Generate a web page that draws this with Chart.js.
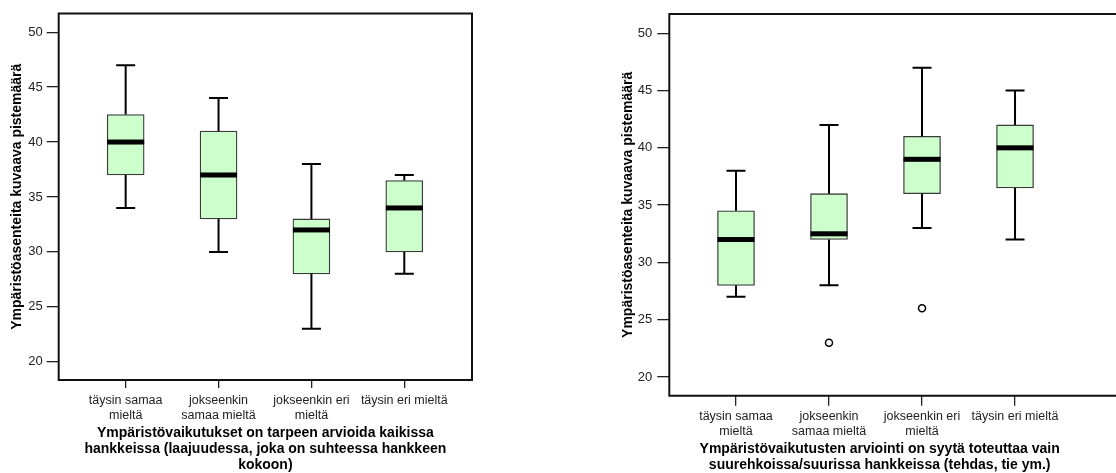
<!DOCTYPE html>
<html>
<head>
<meta charset="utf-8">
<script src="https://cdn.jsdelivr.net/npm/chart.js@4.4.1/dist/chart.umd.min.js"></script>
<style>
  html, body { margin: 0; padding: 0; background: #fff; overflow: hidden; }
  .panel { position: absolute; top: 0; }
</style>
</head>
<body>
<div class="panel" style="left:0px"><canvas id="leftChart" width="556" height="473"></canvas></div>
<div class="panel" style="left:556px"><canvas id="rightChart" width="560" height="473"></canvas></div>
<script>
// categories + tick values shared by both panels
const categories = [
  ['täysin samaa', 'mieltä'],
  ['jokseenkin', 'samaa mieltä'],
  ['jokseenkin eri', 'mieltä'],
  ['täysin eri mieltä']
];
const yTicks = [20, 25, 30, 35, 40, 45, 50];
const yTitle = 'Ympäristöasenteita kuvaava pistemäärä';

// left panel: box plot statistics
const leftLow    = [34, 30, 23, 28];
const leftQ1     = [37, 33, 28, 30];
const leftMedian = [40, 37, 32, 34];
const leftQ3     = [42.5, 41, 33, 36.5];
const leftHigh   = [47, 44, 38, 37];
const leftOutliers = [[], [], [], []];
const leftXTitle = ['Ympäristövaikutukset on tarpeen arvioida kaikissa',
                    'hankkeissa (laajuudessa, joka on suhteessa hankkeen',
                    'kokoon)'];

// right panel: box plot statistics
const rightLow    = [27, 28, 33, 32];
const rightQ1     = [28, 32, 36, 36.5];
const rightMedian = [32, 32.5, 39, 40];
const rightQ3     = [34.5, 36, 41, 42];
const rightHigh   = [38, 42, 47, 45];
const rightOutliers = [[], [23], [26], []];
const rightXTitle = ['Ympäristövaikutusten arviointi on syytä toteuttaa vain',
                     'suurehkoissa/suurissa hankkeissa (tehdas, tie ym.)'];

const FONT = '"Liberation Sans", Arial, Helvetica, sans-serif';

/* whiskers, caps, medians and the frame round the plot area */
const boxPartsPlugin = {
  id: 'boxParts',
  afterDatasetsDraw(chart, args, opts) {
    const { ctx, chartArea, scales: { x, y } } = chart;
    ctx.save();
    ctx.strokeStyle = '#000';
    ctx.lineWidth = 2;
    opts.median.forEach((m, i) => {
      const cx = x.getPixelForValue(i + 1);
      const lo = y.getPixelForValue(opts.low[i]);
      const q1 = y.getPixelForValue(opts.q1[i]);
      const q3 = y.getPixelForValue(opts.q3[i]);
      const hi = y.getPixelForValue(opts.high[i]);
      ctx.beginPath();
      ctx.moveTo(cx, q3); ctx.lineTo(cx, hi);
      ctx.moveTo(cx, q1); ctx.lineTo(cx, lo);
      ctx.moveTo(cx - opts.capWidth / 2, hi); ctx.lineTo(cx + opts.capWidth / 2, hi);
      ctx.moveTo(cx - opts.capWidth / 2, lo); ctx.lineTo(cx + opts.capWidth / 2, lo);
      ctx.stroke();
      // median bar
      const my = y.getPixelForValue(m);
      ctx.fillStyle = '#000';
      ctx.fillRect(cx - opts.boxWidth / 2, my - 2.5, opts.boxWidth, 5);
    });

    // frame
    ctx.strokeStyle = '#111';
    ctx.lineWidth = 2;
    ctx.beginPath();
    if (opts.openRight) {
      ctx.moveTo(chart.width + 2, chartArea.top);
      ctx.lineTo(chartArea.left, chartArea.top);
      ctx.lineTo(chartArea.left, chartArea.bottom);
      ctx.lineTo(chart.width + 2, chartArea.bottom);
    } else {
      ctx.rect(chartArea.left, chartArea.top, chartArea.right - chartArea.left, chartArea.bottom - chartArea.top);
    }
    ctx.stroke();
    ctx.restore();
  }
};

function makeBoxChart(canvasId, stats, cfg) {
  const boxData = stats.q1.map((v, i) => ({ x: i + 1, y: [v, stats.q3[i]] }));
  const outlierData = [];
  stats.outliers.forEach((list, i) => list.forEach(v => outlierData.push({ x: i + 1, y: v })));

  return new Chart(document.getElementById(canvasId), {
    type: 'bar',
    data: {
      datasets: [{
        type: 'bar',
        data: boxData,
        backgroundColor: '#ccffcc',
        borderColor: '#3a3a3a',
        borderWidth: 1.3,
        borderSkipped: false,
        barThickness: cfg.boxWidth
      }, {
        type: 'scatter',
        data: outlierData,
        pointRadius: 3.5,
        pointBorderWidth: 1.5,
        pointBackgroundColor: '#fff',
        pointBorderColor: '#000'
      }]
    },
    plugins: [boxPartsPlugin],
    options: {
      responsive: false,
      animation: false,
      events: [],
      layout: { padding: { top: cfg.padTop, right: cfg.padRight, left: 0, bottom: 0 } },
      plugins: {
        legend: { display: false },
        tooltip: { enabled: false },
        boxParts: {
          low: stats.low, q1: stats.q1, median: stats.median, q3: stats.q3, high: stats.high,
          boxWidth: cfg.boxWidth, capWidth: 19, openRight: cfg.openRight
        }
      },
      scales: {
        x: {
          type: 'linear',
          offset: false,
          min: cfg.xMin,
          max: cfg.xMax,
          afterBuildTicks: s => { s.ticks = categories.map((c, i) => ({ value: i + 1 })); },
          afterFit: s => { s.height = cfg.xAxisHeight; },
          border: { display: false },
          grid: { offset: false, drawOnChartArea: false, tickLength: cfg.xTickLength, color: '#222', lineWidth: 1.3 },
          ticks: {
            autoSkip: false, maxRotation: 0, padding: cfg.xTickPadding,
            color: '#222', font: { family: FONT, size: 12.5 },
            callback: v => categories[v - 1]
          },
          title: {
            display: true, text: cfg.xTitle, color: '#000',
            font: { family: FONT, size: 14, weight: 'bold', lineHeight: '16px' },
            padding: { top: 0, bottom: 0 }
          }
        },
        y: {
          min: cfg.yMin,
          max: cfg.yMax,
          afterBuildTicks: s => { s.ticks = yTicks.map(v => ({ value: v })); },
          afterFit: s => { s.width = cfg.yAxisWidth; },
          border: { display: false },
          grid: { drawOnChartArea: false, tickLength: 12, color: '#222', lineWidth: 1.3 },
          ticks: { padding: cfg.yTickPadding, color: '#222', font: { family: FONT, size: 13 } },
          title: {
            display: true, text: yTitle, color: '#000',
            font: { family: FONT, size: 14, weight: 'bold' },
            padding: { top: cfg.yTitlePad, bottom: 0 }
          }
        }
      }
    }
  });
}

makeBoxChart('leftChart',
  { low: leftLow, q1: leftQ1, median: leftMedian, q3: leftQ3, high: leftHigh, outliers: leftOutliers },
  {
    xTitle: leftXTitle, boxWidth: 37, openRight: false,
    padTop: 13.5, padRight: 84, xAxisHeight: 93, yAxisWidth: 58.7,
    xMin: 0.279, xMax: 4.729, yMin: 18.34, yMax: 51.7,
    xTickLength: 8, xTickPadding: 5, yTickPadding: 4, yTitlePad: 9
  });

makeBoxChart('rightChart',
  { low: rightLow, q1: rightQ1, median: rightMedian, q3: rightQ3, high: rightHigh, outliers: rightOutliers },
  {
    xTitle: rightXTitle, boxWidth: 37, openRight: true,
    padTop: 14, padRight: 26, xAxisHeight: 77.3, yAxisWidth: 113.3,
    xMin: 0.283, xMax: 4.806, yMin: 18.37, yMax: 51.68,
    xTickLength: 10, xTickPadding: 3, yTickPadding: 5, yTitlePad: 63.3
  });
</script>
</body>
</html>
